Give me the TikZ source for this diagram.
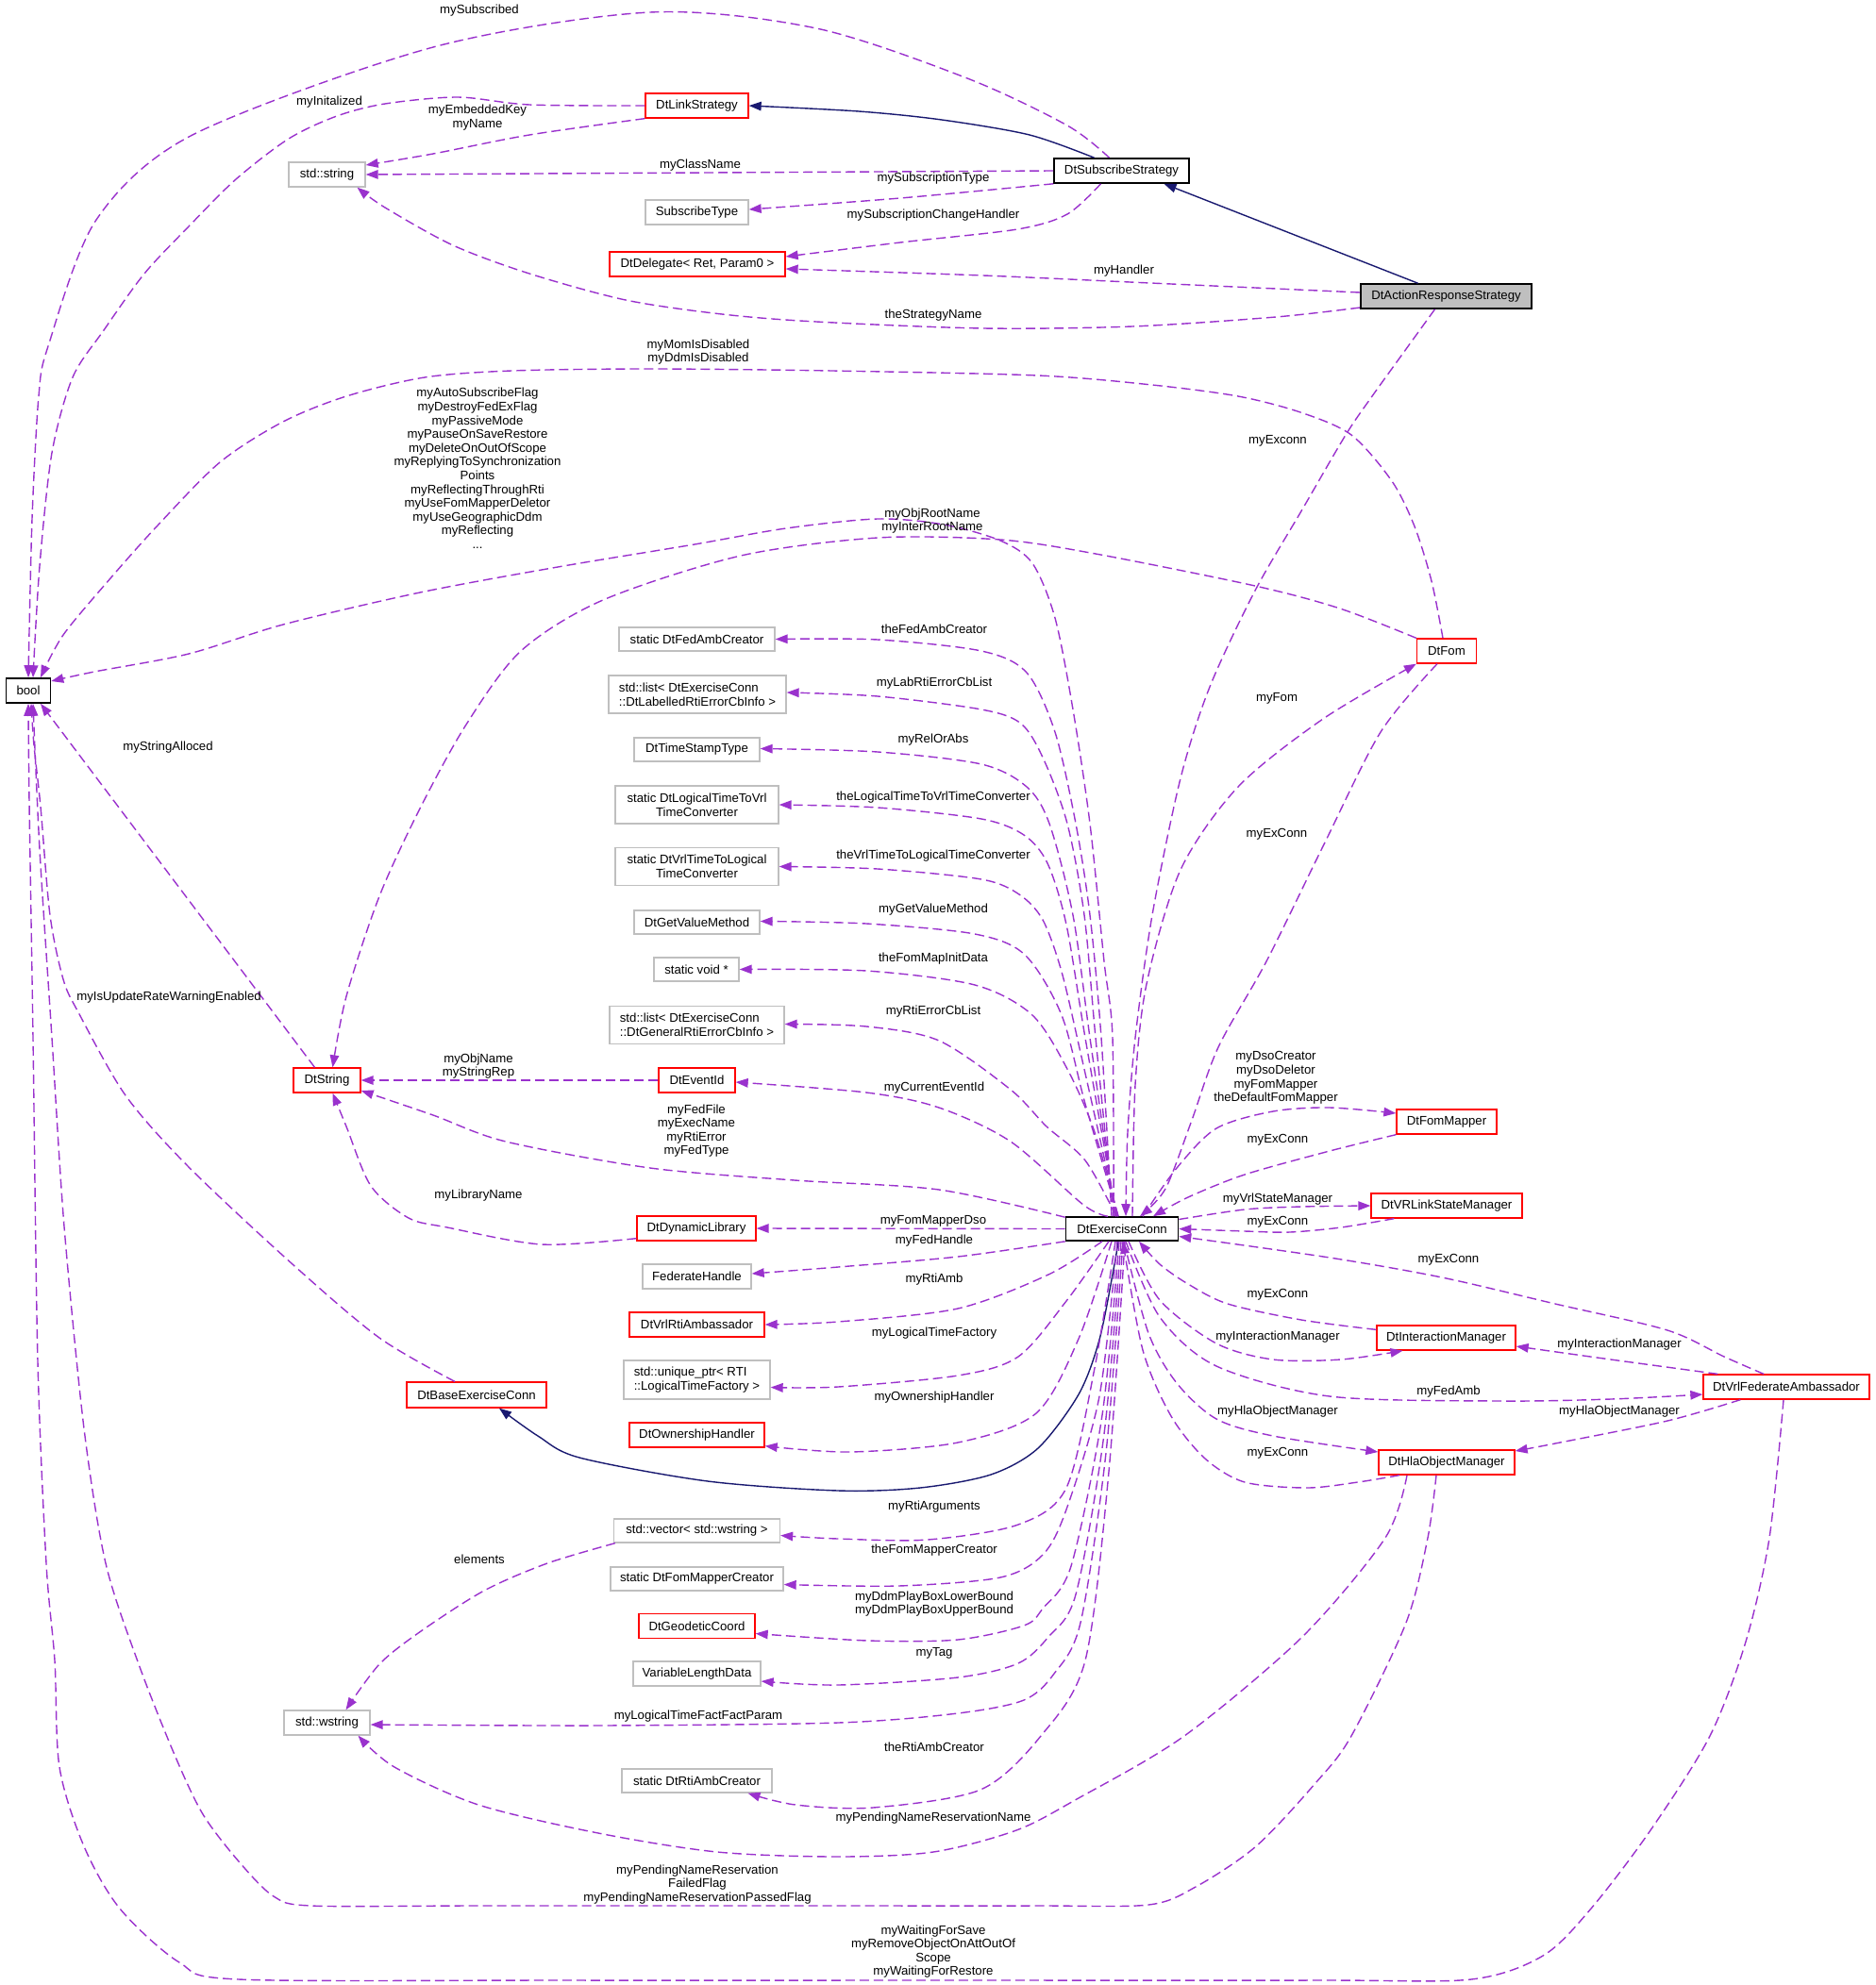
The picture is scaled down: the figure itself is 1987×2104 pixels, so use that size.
\documentclass[tikz,border=0pt]{standalone}
\usepackage{fontspec}
\setmainfont{Liberation Sans}
\usetikzlibrary{arrows.meta}
\definecolor{depc}{HTML}{9A32CD}
\definecolor{inhc}{HTML}{191970}
\definecolor{gbord}{HTML}{BFBFBF}
\definecolor{gfill}{HTML}{BFBFBF}
\begin{document}
\begin{tikzpicture}[x=1pt,y=-1pt,
  font=\fontsize{13.2}{14.6}\selectfont,
  nd/.style={rectangle, inner sep=0pt, line width=1.3pt, fill=white, align=center},
  gnode/.style={nd, draw=gbord},
  rnode/.style={nd, draw=red},
  knode/.style={nd, draw=black, line width=1.6pt},
  anode/.style={nd, draw=black, line width=1.6pt, fill=gfill},
  lbl/.style={inner sep=0pt, align=center},
  depedge/.style={draw=depc, line width=1.4pt, dash pattern=on 10pt off 5pt, -{Triangle[length=13pt,width=9.5pt]}},
  inhedge/.style={draw=inhc, line width=1.4pt, -{Triangle[length=13pt,width=9.5pt]}}]
\useasboundingbox (0,0) rectangle (1987,2104);

% ---------- nodes ----------
\node[knode, minimum width=47pt, minimum height=26pt] (bool) at (30,732) {bool};
\node[gnode, minimum width=81pt, minimum height=26pt] (str) at (346.5,185) {std::string};
\node[rnode, minimum width=109pt, minimum height=26pt] (link) at (738.5,112) {DtLinkStrategy};
\node[gnode, minimum width=109pt, minimum height=26pt] (subtype) at (738.5,225) {SubscribeType};
\node[rnode, minimum width=186pt, minimum height=26pt] (deleg) at (739,280) {DtDelegate< Ret, Param0 >};
\node[knode, minimum width=143pt, minimum height=26pt] (subs) at (1188.5,181) {DtSubscribeStrategy};
\node[anode, minimum width=181pt, minimum height=26pt] (action) at (1532.5,314) {DtActionResponseStrategy};
\node[rnode, minimum width=63pt, minimum height=26pt] (fom) at (1533,690) {DtFom};
\node[gnode, minimum width=165pt, minimum height=25pt] (fedamb) at (738.5,677.5) {static DtFedAmbCreator};
\node[gnode, minimum width=188pt, minimum height=40pt, align=left] (lablist) at (739,736) {std::list< DtExerciseConn\\::DtLabelledRtiErrorCbInfo >};
\node[gnode, minimum width=133pt, minimum height=25pt] (tstamp) at (738.5,794.5) {DtTimeStampType};
\node[gnode, minimum width=173pt, minimum height=40pt] (logtovrl) at (738.5,853) {static DtLogicalTimeToVrl\\TimeConverter};
\node[gnode, minimum width=173pt, minimum height=40pt] (vrltolog) at (738.5,918.5) {static DtVrlTimeToLogical\\TimeConverter};
\node[gnode, minimum width=133pt, minimum height=25pt] (getval) at (738.5,977.5) {DtGetValueMethod};
\node[gnode, minimum width=90pt, minimum height=25pt] (voidp) at (738,1027.5) {static void *};
\node[gnode, minimum width=185pt, minimum height=40pt, align=left] (genlist) at (738.5,1086.5) {std::list< DtExerciseConn\\::DtGeneralRtiErrorCbInfo >};
\node[rnode, minimum width=81pt, minimum height=26pt] (eventid) at (738.5,1145) {DtEventId};
\node[rnode, minimum width=71pt, minimum height=26pt] (dtstring) at (346.5,1145) {DtString};
\node[rnode, minimum width=126pt, minimum height=26pt] (dynlib) at (738,1302) {DtDynamicLibrary};
\node[knode, minimum width=119pt, minimum height=25pt] (ex) at (1189,1302.5) {DtExerciseConn};
\node[gnode, minimum width=115pt, minimum height=26pt] (fedh) at (738.5,1353) {FederateHandle};
\node[rnode, minimum width=143pt, minimum height=26pt] (rtiamb) at (738.5,1404) {DtVrlRtiAmbassador};
\node[gnode, minimum width=155pt, minimum height=41pt, align=left] (uptr) at (738.5,1462.5) {std::unique\_ptr< RTI\\::LogicalTimeFactory >};
\node[rnode, minimum width=143pt, minimum height=26pt] (own) at (738.5,1521) {DtOwnershipHandler};
\node[rnode, minimum width=148pt, minimum height=27pt] (base) at (505,1478.5) {DtBaseExerciseConn};
\node[gnode, minimum width=176pt, minimum height=25pt] (vec) at (738.5,1622.5) {std::vector< std::wstring >};
\node[gnode, minimum width=183pt, minimum height=25pt] (fmcreator) at (738.5,1673.5) {static DtFomMapperCreator};
\node[rnode, minimum width=123pt, minimum height=26pt] (geo) at (738.5,1723.5) {DtGeodeticCoord};
\node[gnode, minimum width=135pt, minimum height=26pt] (vld) at (738.5,1774) {VariableLengthData};
\node[gnode, minimum width=91pt, minimum height=26pt] (wstr) at (346.5,1826) {std::wstring};
\node[gnode, minimum width=159pt, minimum height=25pt] (rticreator) at (738.5,1887.5) {static DtRtiAmbCreator};
\node[rnode, minimum width=106pt, minimum height=26pt] (fommapper) at (1533,1189) {DtFomMapper};
\node[rnode, minimum width=160pt, minimum height=26pt] (vrlink) at (1533,1278) {DtVRLinkStateManager};
\node[rnode, minimum width=147pt, minimum height=26pt] (inter) at (1532.5,1418) {DtInteractionManager};
\node[rnode, minimum width=176pt, minimum height=26pt] (vfa) at (1893,1470) {DtVrlFederateAmbassador};
\node[rnode, minimum width=144pt, minimum height=26pt] (hla) at (1533,1550) {DtHlaObjectManager};

% ---------- inheritance ----------
\draw[inhedge] plot[smooth] coordinates {([xshift=-29pt]subs.north) (1091,143) (998,127) (910,118) (link.east)};
\draw[inhedge] ([xshift=-30pt]action.north) -- ([xshift=45pt]subs.south);
\draw[inhedge] plot[smooth] coordinates {([xshift=-4pt]ex.south) (1181,1340) (1165,1420) (1143,1478) (1100,1535) (1050,1563) (975,1577) (888,1580) (750,1570) (614,1545) (570,1522) ([xshift=24pt]base.south)};

% ---------- top part ----------
\draw[depedge] plot[smooth] coordinates {([xshift=-13pt]subs.north) (1131,133) (1025,83) (865,30) (689,13) (459,50) (204,143) (102,233) (51,367) (41,420) (34,550) (bool.north)};
\draw[depedge] plot[smooth] coordinates {(link.west) (561,111) (485,103) (408,110) (357,123) (306,147) (250,190) (200,240) (153,290) (110,350) (77,400) (55,480) (42,600) ([xshift=5pt]bool.north)};
\draw[depedge] plot[smooth] coordinates {(link.south west) (561,143) (459,163) ([yshift=10pt]str.east)};
\draw[depedge] (subs.west) -- (str.east);
\draw[depedge] plot[smooth] coordinates {(subs.south west) (954,210) ([yshift=3pt]subtype.east)};
\draw[depedge] plot[smooth] coordinates {([xshift=-22pt]subs.south) (1131,227) (1078,243) (954,257) ([yshift=8pt]deleg.east)};
\draw[depedge] plot[smooth] coordinates {([yshift=4pt]action.west) (1219,300) (1042,292) ([yshift=-5pt]deleg.east)};
\draw[depedge] plot[smooth] coordinates {([yshift=-12pt]action.west) (1352,336) (1200,346) (1042,348) (865,341) (765,333) (663,318) (561,290) (480,260) (408,220) ([xshift=32pt]str.south)};
\draw[depedge] plot[smooth] coordinates {([xshift=-12pt]action.south) (1490,370) (1454,420) (1426,461) (1380,540) (1330,626) (1282,728) (1251,825) (1221,970) (1203,1100) (1195,1200) ([xshift=4pt]ex.north)};
\draw[depedge] plot[smooth] coordinates {([xshift=-4pt]fom.north) (1517,616) (1499,558) (1475,510) (1432,461) (1378,437) (1312,420) (1221,408) (1100,398) (882,393) (688,391) (542,393) (450,400) (367,420) (300,447) (233,490) (167,557) (117,613) (67,673) ([xshift=13pt]bool.north)};
\draw[depedge] plot[smooth] coordinates {([xshift=-9pt]ex.north) (1179,1100) (1170,1019) (1155,873) (1137,752) (1118,655) (1094,597) (1060,573) (1000,556) (930,550) (833,560) (736,577) (591,601) (445,628) (300,662) (200,693) (100,712) ([yshift=10pt]bool.east)};
\draw[depedge] plot[smooth] coordinates {(fom.north west) (1420,645) (1330,621) (1161,587) (1060,572) (930,570) (785,589) (639,636) (552,690) (494,768) (445,857) (402,950) (367,1056) ([xshift=6pt]dtstring.north)};

% ---------- fan to left column ----------
\draw[depedge] plot[smooth] coordinates {([xshift=-11pt]ex.north) (1167,1100) (1155,970) (1140,873) (1118,776) (1088,713) (1040,690) (930,678) (fedamb.east)};
\draw[depedge] plot[smooth] coordinates {([xshift=-9pt]ex.north) (1161,1100) (1149,970) (1131,873) (1106,805) (1082,767) (1040,752) (930,738) ([yshift=2pt]lablist.east)};
\draw[depedge] plot[smooth] coordinates {([xshift=-7pt]ex.north) (1155,1100) (1137,970) (1112,873) (1088,834) (1040,810) (930,797) ([yshift=1pt]tstamp.east)};
\draw[depedge] plot[smooth] coordinates {([xshift=-6pt]ex.north) (1150,1100) (1130,980) (1110,915) (1085,885) (1040,868) (930,856) (logtovrl.east)};
\draw[depedge] plot[smooth] coordinates {([xshift=-5pt]ex.north) (1146,1120) (1125,1030) (1105,975) (1080,948) (1040,932) (930,921) (vrltolog.east)};
\draw[depedge] plot[smooth] coordinates {([xshift=-4pt]ex.north) (1150,1170) (1125,1076) (1086,1012) (1033,990) (918,979) ([yshift=1pt]getval.east)};
\draw[depedge] plot[smooth] coordinates {([xshift=-4pt]ex.north) (1160,1200) (1132,1135) (1094,1076) (1033,1044) (918,1029) (voidp.east)};
\draw[depedge] plot[smooth] coordinates {([xshift=-6pt]ex.north) (1150,1230) (1109,1194) (1071,1155) (995,1103) (918,1088) ([yshift=1pt]genlist.east)};
\draw[depedge] plot[smooth] coordinates {([xshift=-15pt]ex.north) (1148,1277) (1071,1210) (995,1174) (918,1158) ([yshift=-2pt]eventid.east)};
\draw[depedge] plot[smooth] coordinates {([yshift=-1pt]ex.north west) (995,1261) (842,1251) (689,1238) (536,1210) (459,1182) ([yshift=-11pt]dtstring.east)};
\draw[depedge] (ex.west) -- (dynlib.east);
\draw[depedge] plot[smooth] coordinates {(ex.south west) (1015,1332) (888,1343) ([yshift=3pt]fedh.east)};
\draw[depedge] plot[smooth] coordinates {([xshift=-21pt]ex.south) (1111,1351) (1015,1387) (888,1401) (rtiamb.east)};
\draw[depedge] plot[smooth] coordinates {([xshift=-14pt]ex.south) (1130,1379) (1079,1438) (1015,1458) (888,1470) ([yshift=-8pt]uptr.east)};
\draw[depedge] plot[smooth] coordinates {([xshift=-11pt]ex.south) (1143,1419) (1098,1498) (1015,1529) (900,1539) ([yshift=2pt]own.south east)};
\draw[depedge] plot[smooth] coordinates {([xshift=-7pt]ex.south) (1160,1450) (1130,1577) (1079,1616) (983,1632) (888,1631) ([yshift=-5pt]vec.east)};
\draw[depedge] plot[smooth] coordinates {([xshift=-5pt]ex.south) (1165,1480) (1130,1600) (1105,1648) (1060,1672) (952,1681) ([yshift=-6pt]fmcreator.east)};
\draw[depedge] plot[smooth] coordinates {([xshift=-3pt]ex.south) (1168,1500) (1135,1660) (1105,1705) (1085,1723) (1015,1738) (920,1739) ([yshift=-8pt]geo.east)};
\draw[depedge] plot[smooth] coordinates {([xshift=-1pt]ex.south) (1170,1520) (1140,1690) (1111,1735) (1079,1763) (1015,1778) (888,1786) ([yshift=-8pt]vld.east)};
\draw[depedge] plot[smooth] coordinates {([xshift=1pt]ex.south) (1172,1540) (1145,1720) (1117,1774) (1085,1802) (1015,1816) (888,1826) (633,1829) ([yshift=-2pt]wstr.east)};
\draw[depedge] plot[smooth] coordinates {([xshift=3pt]ex.south) (1175,1560) (1150,1760) (1103,1840) (1039,1897) (925,1916) (843,1913) ([xshift=54pt]rticreator.south)};

% ---------- right side ----------
\draw[depedge] plot[smooth] coordinates {([xshift=11pt]ex.north) (1203,1150) (1215,1043) (1251,922) (1312,834) (1402,762) (fom.south west)};
\draw[depedge] plot[smooth] coordinates {([xshift=-10pt]fom.south) (1463,776) (1402,897) (1342,1019) (1291,1110) (1262,1190) (1235,1260) ([xshift=19pt]ex.north)};
\draw[depedge] plot[smooth] coordinates {([xshift=22pt]ex.north) (1247,1238) (1289,1196) (1349,1178) (1409,1174) ([yshift=9pt]fommapper.west)};
\draw[depedge] plot[smooth] coordinates {(fommapper.south west) (1409,1220) (1319,1245) (1259,1269) ([xshift=33pt]ex.north)};
\draw[depedge] plot[smooth] coordinates {([yshift=10pt]ex.east) (1319,1282) (1379,1279) (vrlink.west)};
\draw[depedge] plot[smooth] coordinates {([xshift=25pt]vrlink.south west) (1421,1301) (1367,1306) (1319,1305) (ex.east)};
\draw[depedge] plot[smooth] coordinates {([xshift=-24pt]vfa.north) (1827,1438) (1767,1410) (1648,1382) (1528,1354) (1409,1333) ([yshift=-8pt]ex.east)};
\draw[depedge] plot[smooth] coordinates {([yshift=-5pt]inter.north west) (1379,1399) (1301,1382) (1259,1361) (1229,1340) ([xshift=18pt]ex.south)};
\draw[depedge] plot[smooth] coordinates {([xshift=7pt]ex.south) (1229,1378) (1289,1424) (1349,1441) (1421,1441) ([xshift=-46pt]inter.south)};
\draw[depedge] plot[smooth] coordinates {([xshift=4pt]ex.south) (1229,1396) (1289,1448) (1409,1480) (1588,1485) (1707,1483) ([yshift=-8pt]vfa.west)};
\draw[depedge] plot[smooth] coordinates {([xshift=16pt]vfa.north west) (1707,1441) ([yshift=-9pt]inter.east)};
\draw[depedge] plot[smooth] coordinates {([xshift=40pt]vfa.south west) (1767,1506) (1648,1530) ([yshift=12pt]hla.east)};
\draw[depedge] plot[smooth] coordinates {([xshift=2pt]ex.south) (1217,1413) (1247,1466) (1289,1504) (1349,1522) ([yshift=11pt]hla.west)};
\draw[depedge] plot[smooth] coordinates {([xshift=-50pt]hla.south) (1439,1571) (1385,1577) (1319,1571) (1277,1546) (1241,1501) (1211,1431) ([xshift=1pt]ex.south)};

% ---------- left lower ----------
\draw[depedge] ([xshift=-13pt]dtstring.north) -- ([xshift=13pt]bool.south);
\draw[depedge] (eventid.west) -- (dtstring.east);
\draw[depedge] plot[smooth] coordinates {([yshift=3pt]dynlib.south west) (574,1319) (474,1301) (433,1291) (393,1257) (367,1194) ([xshift=6pt]dtstring.south)};
\draw[depedge] plot[smooth] coordinates {([xshift=-23pt]base.north) (402,1418) (310,1340) (200,1237) (133,1161) (83,1073) (67,1038) (53,970) (43,855) (36,790) ([xshift=3pt]bool.south)};
\draw[depedge] plot[smooth] coordinates {([xshift=2pt]vec.south west) (580,1657) (513,1686) (446,1729) (402,1764) ([xshift=20pt]wstr.north)};
\draw[depedge] plot[smooth] coordinates {([xshift=-42pt]hla.south) (1468,1630) (1380,1735) (1255,1840) (1141,1907) (1077,1940) (989,1963) (887,1968) (760,1963) (634,1943) (507,1913) (418,1873) ([xshift=33pt]wstr.south)};
\draw[depedge] plot[smooth] coordinates {([xshift=-11pt]hla.south) (1513,1630) (1490,1720) (1432,1840) (1394,1890) (1331,1957) (1267,2000) (1217,2019) (1100,2020) (900,2020) (700,2020) (500,2020) (330,2020) (290,2010) (253,1973) (215,1923) (185,1860) (147,1764) (112,1657) (89,1514) (68,1300) (55,1100) (42,900) ([xshift=5pt]bool.south)};
\draw[depedge] plot[smooth] coordinates {([xshift=-3pt]vfa.south) (1875,1630) (1850,1740) (1812,1840) (1749,1940) (1686,2023) (1635,2073) (1559,2098) (1400,2099) (1000,2099) (600,2099) (253,2098) (190,2080) (127,2023) (89,1957) (63,1873) (58,1760) (49,1657) (40,1443) (35,1100) (31,850) (bool.south)};

% ---------- labels ----------
\node[lbl] (t1) at (508,11) {mySubscribed};
\node[lbl] (t2) at (349,108) {myInitalized};
\node[lbl] (t3) at (506,124.5) {myEmbeddedKey\\myName};
\node[lbl] (t4) at (742,175) {myClassName};
\node[lbl] (t5) at (989,189) {mySubscriptionType};
\node[lbl] (t6) at (989,228) {mySubscriptionChangeHandler};
\node[lbl] (t7) at (1191,287) {myHandler};
\node[lbl] (t8) at (989,334) {theStrategyName};
\node[lbl] (t9) at (740,373) {myMomIsDisabled\\myDdmIsDisabled};
\node[lbl] (t10) at (506,496.5) {myAutoSubscribeFlag\\myDestroyFedExFlag\\myPassiveMode\\myPauseOnSaveRestore\\myDeleteOnOutOfScope\\myReplyingToSynchronization\\Points\\myReflectingThroughRti\\myUseFomMapperDeletor\\myUseGeographicDdm\\myReflecting\\...};
\node[lbl] (t11) at (988,552) {myObjRootName\\myInterRootName};
\node[lbl] (t12) at (1354,467) {myExconn};
\node[lbl] (t13) at (990,667) {theFedAmbCreator};
\node[lbl] (t14) at (990,724) {myLabRtiErrorCbList};
\node[lbl] (t15) at (989,784) {myRelOrAbs};
\node[lbl] (t16) at (989,845) {theLogicalTimeToVrlTimeConverter};
\node[lbl] (t17) at (989,907) {theVrlTimeToLogicalTimeConverter};
\node[lbl] (t18) at (989,964) {myGetValueMethod};
\node[lbl] (t19) at (989,1016) {theFomMapInitData};
\node[lbl] (t20) at (989,1072) {myRtiErrorCbList};
\node[lbl] (t21) at (990,1153) {myCurrentEventId};
\node[lbl] (t22) at (738,1198.5) {myFedFile\\myExecName\\myRtiError\\myFedType};
\node[lbl] (t23) at (507,1130) {myObjName\\myStringRep};
\node[lbl] (t24) at (507,1267) {myLibraryName};
\node[lbl] (t25) at (178,792) {myStringAlloced};
\node[lbl] (t26) at (179,1057) {myIsUpdateRateWarningEnabled};
\node[lbl] (t27) at (989,1294) {myFomMapperDso};
\node[lbl] (t28) at (990,1315) {myFedHandle};
\node[lbl] (t29) at (990,1356) {myRtiAmb};
\node[lbl] (t30) at (990,1413) {myLogicalTimeFactory};
\node[lbl] (t31) at (990,1481) {myOwnershipHandler};
\node[lbl] (t32) at (990,1597) {myRtiArguments};
\node[lbl] (t33) at (990,1643) {theFomMapperCreator};
\node[lbl] (t34) at (990,1700) {myDdmPlayBoxLowerBound\\myDdmPlayBoxUpperBound};
\node[lbl] (t35) at (990,1752) {myTag};
\node[lbl] (t36) at (740,1819) {myLogicalTimeFactFactParam};
\node[lbl] (t37) at (990,1852) {theRtiAmbCreator};
\node[lbl] (t38) at (508,1653) {elements};
\node[lbl] (t39) at (989,1927) {myPendingNameReservationName};
\node[lbl] (t40) at (739,1997.5) {myPendingNameReservation\\FailedFlag\\myPendingNameReservationPassedFlag};
\node[lbl] (t41) at (989,2068.5) {myWaitingForSave\\myRemoveObjectOnAttOutOf\\Scope\\myWaitingForRestore};
\node[lbl] (t42) at (1353,740) {myFom};
\node[lbl] (t43) at (1353,884) {myExConn};
\node[lbl] (t44) at (1352,1142.5) {myDsoCreator\\myDsoDeletor\\myFomMapper\\theDefaultFomMapper};
\node[lbl] (t45) at (1354,1208) {myExConn};
\node[lbl] (t46) at (1354,1271) {myVrlStateManager};
\node[lbl] (t47) at (1354,1295) {myExConn};
\node[lbl] (t48) at (1535,1335) {myExConn};
\node[lbl] (t49) at (1354,1372) {myExConn};
\node[lbl] (t50) at (1354,1417) {myInteractionManager};
\node[lbl] (t51) at (1716,1425) {myInteractionManager};
\node[lbl] (t52) at (1535,1475) {myFedAmb};
\node[lbl] (t53) at (1354,1496) {myHlaObjectManager};
\node[lbl] (t54) at (1716,1496) {myHlaObjectManager};
\node[lbl] (t55) at (1354,1540) {myExConn};
\end{tikzpicture}
\end{document}
